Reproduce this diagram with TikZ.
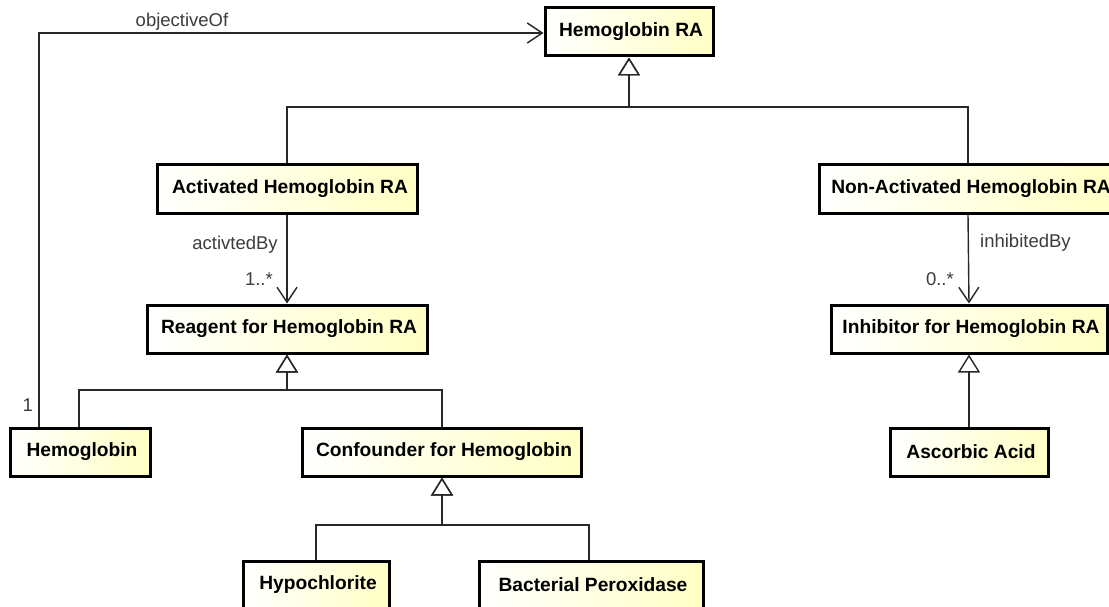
\documentclass[tikz,border=0pt]{standalone}
\usepackage{fontspec}
\setmainfont{Liberation Sans}
\usetikzlibrary{arrows.meta,shadows}
\definecolor{boxylw}{RGB}{255,255,196}
\definecolor{linegray}{RGB}{40,40,40}
\definecolor{labelgray}{RGB}{60,60,60}
\tikzset{
  cls/.style={draw=black, line width=3pt, left color=white, right color=boxylw,
    inner sep=0pt, minimum height=48pt, font=\fontsize{19.2}{22}\selectfont\bfseries,
    drop shadow={shadow xshift=1.2pt, shadow yshift=-1.2pt, fill=black!45, opacity=1}},
  gen/.style={draw=linegray, line width=1.4pt,
    -{Triangle[open, length=18pt, width=22pt, line width=1.4pt]}},
  assoc/.style={draw=linegray, line width=1.4pt,
    -{Straight Barb[length=15pt, width=20pt, line width=1.4pt]}},
  lbl/.style={text=labelgray, inner sep=0pt, font=\fontsize{18.5}{22}\selectfont}
}
\begin{document}
\begin{tikzpicture}[x=1pt, y=-1pt]
\useasboundingbox (0,0) rectangle (1109,607);
\clip (0,0) rectangle (1109,607);
\fill[white] (0,0) rectangle (1109,607);

% classes
\node[cls, minimum width=168pt] (hra)  at (629,32)  {\hspace{4pt}Hemoglobin RA};
\node[cls, minimum width=260pt] (act)  at (287,189) {\hspace{6pt}Activated Hemoglobin RA};
\node[cls, minimum width=298pt] (non)  at (968,189) {\hspace{6pt}Non-Activated Hemoglobin RA};
\node[cls, minimum width=280pt] (reag) at (287,329) {\hspace{4pt}Reagent for Hemoglobin RA};
\node[cls, minimum width=276pt] (inh)  at (969,329) {\hspace{4pt}Inhibitor for Hemoglobin RA};
\node[cls, minimum width=140pt] (hemo) at (80,452)  {\hspace{4pt}Hemoglobin};
\node[cls, minimum width=279pt] (conf) at (442,452) {\hspace{4pt}Confounder for Hemoglobin};
\node[cls, minimum width=158pt] (asc)  at (969,452) {\hspace{4pt}Ascorbic Acid};
\node[cls, minimum width=146pt] (hypo) at (316,585) {\hspace{4pt}Hypochlorite};
\node[cls, minimum width=224pt] (bact) at (591,585) {\hspace{4pt}Bacterial Peroxidase};

% junction points of the generalization bars
\coordinate (jtop)  at (629,107);
\coordinate (jreag) at (287,390);
\coordinate (jconf) at (442,525);
\coordinate (bend)  at (39,33);

% generalizations
\draw[gen] (act.north) |- (jtop) -- (hra.south);
\draw[gen] (non.north) |- (jtop) -- (hra.south);
\draw[gen] ([xshift=-1pt]hemo.north) |- (jreag) -- (reag.south);
\draw[gen] (conf.north) |- (jreag) -- (reag.south);
\draw[gen] (hypo.north) |- (jconf) -- (conf.south);
\draw[gen] ([xshift=-2pt]bact.north) |- (jconf) -- (conf.south);
\draw[gen] (asc.north) -- (inh.south);

% associations
\draw[assoc] (act.south) -- (reag.north);
\draw[assoc] (non.south) -- (inh.north);
\draw[assoc] ([xshift=-41pt]hemo.north) -- (bend) -- (bend -| hra.west);

% association labels
\node[lbl] (lobj) at (182,22) {objectiveOf};
\node[lbl, anchor=east] (lone) at (33,405) {1};
\node[lbl] (lact) at (235,245) {activtedBy};
\node[lbl, anchor=east] (lmult1) at (273,279) {1..*};
\node[lbl, anchor=west] (linh) at (980,243) {inhibitedBy};
\node[lbl, anchor=east] (lmult2) at (954,279) {0..*};
\end{tikzpicture}
\end{document}
